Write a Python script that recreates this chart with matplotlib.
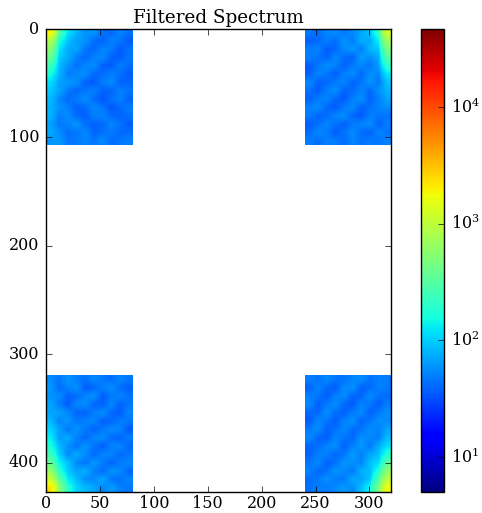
import numpy as np
import matplotlib
matplotlib.use("Agg")
import matplotlib.pyplot as plt
from matplotlib.colors import LogNorm

title = "Filtered Spectrum"
x_ticks = [0, 50, 100, 150, 200, 250, 300]
y_ticks = [0, 100, 200, 300, 400]
image_width = 320
image_height = 427
kept_width = 80
kept_height = 107
vmin, vmax = 5, 47000
cbar_ticks = [1e1, 1e2, 1e3, 1e4]

# Amplitudes estimated by eye from the reference, on a coarse grid (rows top to bottom).
top_left = [
    [1900, 300, 125, 82, 58, 62, 44, 40, 52, 44],
    [850, 170, 90, 66, 60, 42, 38, 50, 46, 36],
    [560, 125, 72, 70, 46, 40, 52, 48, 36, 44],
    [380, 100, 74, 50, 40, 50, 54, 38, 36, 46],
    [250, 84, 58, 44, 52, 56, 38, 36, 48, 42],
    [165, 80, 48, 54, 56, 40, 42, 50, 44, 36],
    [115, 66, 62, 56, 38, 36, 48, 54, 38, 40],
    [96, 70, 48, 40, 46, 50, 38, 40, 50, 46],
    [84, 54, 40, 48, 56, 42, 34, 44, 50, 38],
    [78, 60, 50, 38, 42, 52, 46, 34, 40, 48],
    [80, 48, 56, 42, 36, 50, 52, 42, 38, 44],
    [68, 46, 52, 60, 44, 38, 40, 52, 46, 36],
    [74, 56, 42, 46, 54, 38, 44, 48, 40, 42],
    [62, 62, 46, 48, 52, 46, 54, 42, 46, 50],
]
top_right = [
    [48, 42, 52, 56, 46, 54, 70, 92, 210, 1300],
    [38, 40, 50, 42, 60, 48, 76, 72, 140, 720],
    [48, 52, 36, 40, 56, 62, 48, 84, 95, 480],
    [50, 44, 38, 54, 42, 38, 64, 56, 74, 320],
    [36, 46, 56, 50, 38, 48, 54, 44, 66, 205],
    [38, 52, 46, 36, 50, 56, 40, 58, 52, 125],
    [54, 38, 40, 48, 52, 38, 46, 60, 46, 92],
    [44, 36, 50, 56, 38, 42, 52, 40, 58, 80],
    [38, 48, 52, 40, 36, 50, 56, 38, 50, 70],
    [50, 56, 40, 36, 48, 54, 38, 44, 52, 56],
    [48, 38, 42, 52, 56, 40, 36, 50, 46, 44],
    [36, 44, 52, 44, 38, 48, 52, 56, 38, 50],
    [42, 54, 48, 36, 44, 56, 42, 38, 52, 44],
    [50, 42, 50, 48, 42, 52, 44, 48, 46, 52],
]
bottom_left = [
    [56, 46, 60, 50, 44, 54, 46, 42, 52, 46],
    [64, 40, 52, 58, 36, 40, 50, 56, 42, 38],
    [58, 56, 38, 42, 52, 58, 36, 46, 52, 44],
    [70, 48, 36, 52, 56, 40, 38, 54, 38, 46],
    [68, 68, 54, 40, 38, 48, 56, 42, 36, 52],
    [84, 50, 62, 46, 50, 54, 38, 40, 48, 46],
    [105, 68, 44, 60, 48, 38, 46, 54, 52, 36],
    [135, 64, 74, 50, 40, 52, 56, 42, 38, 48],
    [170, 84, 58, 44, 60, 46, 36, 50, 54, 40],
    [240, 100, 54, 72, 56, 40, 52, 52, 40, 46],
    [370, 140, 90, 54, 44, 62, 48, 38, 48, 52],
    [640, 195, 96, 68, 76, 50, 42, 58, 54, 40],
    [1150, 330, 130, 88, 56, 54, 70, 46, 44, 52],
    [2300, 560, 190, 105, 84, 72, 52, 64, 50, 46],
]
bottom_right = [
    [50, 44, 54, 46, 44, 52, 56, 44, 50, 48],
    [38, 52, 40, 36, 54, 58, 38, 40, 52, 46],
    [50, 46, 36, 50, 56, 38, 40, 56, 44, 42],
    [54, 36, 48, 56, 40, 36, 52, 46, 36, 50],
    [40, 40, 58, 42, 38, 48, 54, 38, 48, 56],
    [36, 54, 46, 36, 50, 58, 40, 46, 58, 54],
    [48, 56, 38, 44, 54, 42, 44, 58, 50, 70],
    [54, 40, 36, 52, 46, 40, 58, 54, 48, 86],
    [40, 42, 52, 56, 38, 50, 62, 46, 76, 115],
    [38, 50, 50, 40, 46, 64, 50, 70, 88, 185],
    [46, 54, 38, 44, 60, 58, 52, 88, 115, 320],
    [52, 40, 44, 60, 54, 46, 78, 84, 180, 600],
    [42, 46, 58, 48, 48, 72, 68, 96, 300, 1000],
    [44, 50, 48, 54, 64, 54, 88, 150, 460, 1800],
]

plt.style.use("classic")
plt.rcParams["font.family"] = "DejaVu Serif"
plt.rcParams["mathtext.fontset"] = "dejavuserif"

W, H = 482, 513
fig = plt.figure(figsize=(W / 100, H / 100), dpi=100, facecolor="white")
ax = fig.add_axes([46 / W, 1 - 492 / H, 345 / W, 463 / H])
norm = LogNorm(vmin=vmin, vmax=vmax)

blocks = [
    (top_left, (0, kept_width, kept_height, 0)),
    (top_right, (image_width - kept_width, image_width, kept_height, 0)),
    (bottom_left, (0, kept_width, image_height, image_height - kept_height)),
    (bottom_right, (image_width - kept_width, image_width, image_height, image_height - kept_height)),
]
for values, extent in blocks:
    im = ax.imshow(np.array(values, dtype=float), extent=extent, cmap="jet", norm=norm,
                   interpolation="bilinear", aspect="auto")
ax.set_xlim(0, image_width)
ax.set_ylim(image_height, 0)
ax.set_xticks(x_ticks)
ax.set_yticks(y_ticks)
ax.tick_params(axis="y", labelsize=11.5, pad=5)
ax.tick_params(axis="x", labelsize=11.5, pad=2)
ax.set_title(title, fontsize=13.2, pad=4)

cax = fig.add_axes([421 / W, 1 - 492 / H, 23 / W, 463 / H])
cbar = fig.colorbar(im, cax=cax)
cbar.set_ticks(cbar_ticks)
cbar.ax.minorticks_off()
cbar.ax.tick_params(labelsize=11.5, pad=5)

fig.savefig("out.png", dpi=100, facecolor="white")
